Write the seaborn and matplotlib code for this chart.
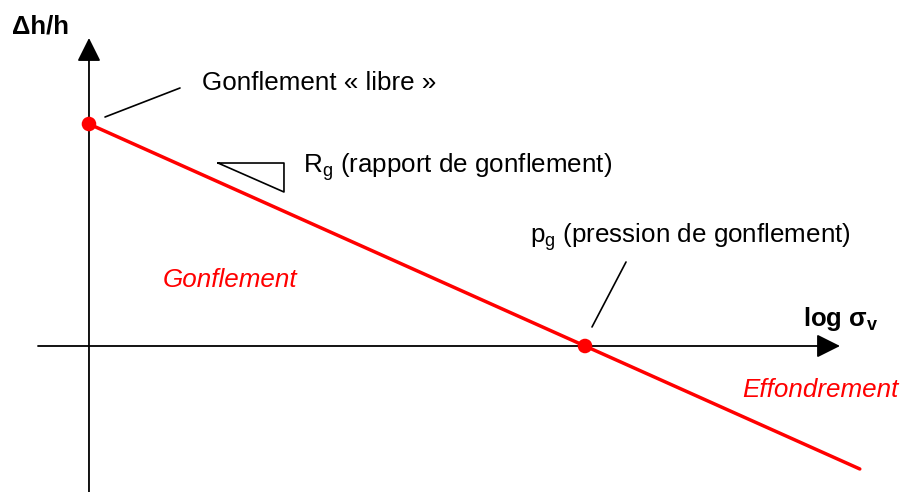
"""Schematic of the swelling test: relative swell vs log vertical stress."""

import matplotlib

matplotlib.use("Agg")
import matplotlib.pyplot as plt  # noqa: E402
import pandas as pd  # noqa: E402
import seaborn as sns  # noqa: E402

sns.set_style("white")
plt.rcParams["font.family"] = ["Liberation Sans", "DejaVu Sans"]
plt.rcParams["text.color"] = "black"
plt.rcParams["mathtext.fontset"] = "custom"
plt.rcParams["mathtext.rm"] = "Liberation Sans"
plt.rcParams["mathtext.it"] = "Liberation Sans:italic"
plt.rcParams["mathtext.bf"] = "Liberation Sans:bold"

# diagram units: axes cross at (0, 0), p_g at x = 1, free swell at y = 1
LINE_X = [0.0, 1.554]
LINE_Y = [1.0, -0.554]
KEY_X = [0.0, 1.0]
KEY_Y = [1.0, 0.0]
KEY_NAMES = ["Gonflement « libre »", "pg"]

RED = "#ff0000"

fig = plt.figure(figsize=(9.03, 4.92), dpi=100)
ax = fig.add_axes([0, 0, 1, 1])
ax.set_xlim(-0.1794, 1.6411)
ax.set_ylim(-0.6577, 1.5586)
ax.set_axis_off()

# axes with arrow heads
arrow = dict(arrowstyle="-|>,head_length=1.0,head_width=0.5", mutation_scale=14.4,
             lw=1.3, color="black", shrinkA=0, shrinkB=0)
ax.annotate("", xy=(0, 1.3874), xytext=(0, -0.6577), arrowprops=arrow)
ax.annotate("", xy=(1.5141, 0), xytext=(-0.1028, 0), arrowprops=arrow)

line_df = pd.DataFrame({"x": LINE_X, "y": LINE_Y})
sns.lineplot(data=line_df, x="x", y="y", color=RED, lw=2.5, ax=ax, zorder=3)

key_df = pd.DataFrame({"x": KEY_X, "y": KEY_Y, "name": KEY_NAMES})
sns.scatterplot(data=key_df, x="x", y="y", color=RED, s=110, edgecolor="none",
                ax=ax, zorder=4)

# leader lines
ax.plot([0.0323, 0.1835], [1.0315, 1.1622], color="black", lw=1.2)
ax.plot([1.0141, 1.0827], [0.0856, 0.3784], color="black", lw=1.2)

# slope triangle
ax.plot([0.2601, 0.3931, 0.3931, 0.2601], [0.8243, 0.8243, 0.6937, 0.8243],
        color="black", lw=1.2)

fs = 18.7
ax.text(-0.1552, 1.4099, "Δh/h", fontsize=18.5, fontweight="bold", va="baseline")
ax.text(1.4395, 0.0901, r"log σ$_\mathbf{v}$", fontsize=18.5, fontweight="bold",
        va="baseline")
ax.text(0.2278, 1.1532, "Gonflement « libre »", fontsize=fs, va="baseline")
ax.text(0.4315, 0.7793, r"R$_\mathrm{g}$ (rapport de gonflement)", fontsize=fs,
        va="baseline")
ax.text(0.8891, 0.4640, r"p$_\mathrm{g}$ (pression de gonflement)", fontsize=fs,
        va="baseline")
ax.text(0.1492, 0.2658, "Gonflement", fontsize=fs, style="italic", color=RED,
        va="baseline")
ax.text(1.3165, -0.2297, "Effondrement", fontsize=fs, style="italic", color=RED,
        va="baseline")

ax.set_xlabel("")
ax.set_ylabel("")

fig.savefig("out.png", dpi=100)
plt.close(fig)
